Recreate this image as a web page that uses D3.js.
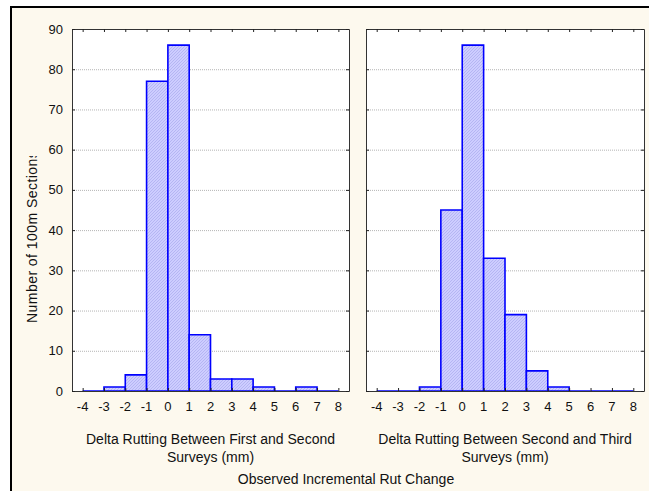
<!DOCTYPE html>
<html>
<head>
<meta charset="utf-8">
<script src="https://cdn.jsdelivr.net/npm/d3@7"></script>
<style>
  body { margin: 0; background: #ffffff; }
  svg { display: block; font-family: Arial, "Liberation Sans", sans-serif; }
</style>
</head>
<body>
<svg id="chart" width="649" height="491"></svg>
<script>
// bins are 1 mm wide, starting at these values
const binStarts = [-4, -3, -2, -1, 0, 1, 2, 3, 4, 5, 6, 7];
const firstToSecond = [0, 1, 4, 77, 86, 14, 3, 3, 1, 0, 1, 0];
const secondToThird = [0, 0, 1, 45, 86, 33, 19, 5, 1, 0, 0, 0];
const xTicks = [-4, -3, -2, -1, 0, 1, 2, 3, 4, 5, 6, 7, 8];
const yTicks = [0, 10, 20, 30, 40, 50, 60, 70, 80, 90];
const panelTitles = [
    ["Delta Rutting Between First and Second", "Surveys (mm)"],
    ["Delta Rutting Between Second and Third", "Surveys (mm)"]
];

const svg = d3.select("#chart");
const plotTop = 29, plotBottom = 391;
const panels = [
    {left: 72, right: 349, values: firstToSecond, title: panelTitles[0], yLabels: true},
    {left: 366, right: 644, values: secondToThird, title: panelTitles[1], yLabels: false}
];

// cream frame
svg.append("rect")
    .attr("x", 11).attr("y", 7)
    .attr("width", 660).attr("height", 500)
    .attr("fill", "#fdf9ee")
    .attr("stroke", "#000").attr("stroke-width", 2);

// hatch pattern for the bars
const defs = svg.append("defs");
const pat = defs.append("pattern")
    .attr("id", "hatch")
    .attr("patternUnits", "userSpaceOnUse")
    .attr("width", 3).attr("height", 3);
pat.append("rect").attr("width", 3).attr("height", 3).attr("fill", "#cdcdff");
pat.append("path").attr("d", "M0,3 L3,0 M-1,1 L1,-1 M2,4 L4,2")
    .attr("stroke", "#aeaef0").attr("stroke-width", 0.8);

const y = d3.scaleLinear().domain([0, 90]).range([plotBottom, plotTop]);

panels.forEach(function(p) {
    const x = d3.scaleLinear().domain([-4.5, 8.5]).range([p.left, p.right]);
    const g = svg.append("g");

    g.append("rect")
        .attr("x", p.left).attr("y", plotTop)
        .attr("width", p.right - p.left).attr("height", plotBottom - plotTop)
        .attr("fill", "#fff");

    // dotted grid
    g.selectAll(".grid").data(yTicks.filter(function(d) { return d > 0 && d < 90; }))
        .enter().append("line")
        .attr("x1", p.left).attr("x2", p.right)
        .attr("y1", function(d) { return y(d) + 0.5; })
        .attr("y2", function(d) { return y(d) + 0.5; })
        .attr("stroke", "#b4b4b4")
        .attr("stroke-dasharray", "1,1");

    // bars
    g.selectAll(".bar").data(binStarts)
        .enter().append("path")
        .attr("d", function(d, i) {
            const x0 = x(d), x1 = x(d + 1), y0 = y(0), y1 = y(p.values[i]);
            return "M" + x0 + "," + y0 + "V" + y1 + "H" + x1 + "V" + y0 + "Z";
        })
        .attr("fill", "url(#hatch)")
        .attr("stroke", "#0000ff")
        .attr("stroke-width", 1.6);

    // frame with inward ticks on all sides
    const tickLen = 3;
    const axes = [
        {axis: d3.axisBottom(x).tickValues(xTicks), t: "translate(0," + plotBottom + ")"},
        {axis: d3.axisTop(x).tickValues(xTicks), t: "translate(0," + plotTop + ")"},
        {axis: d3.axisLeft(y).tickValues(yTicks), t: "translate(" + p.left + ",0)"},
        {axis: d3.axisRight(y).tickValues(yTicks), t: "translate(" + p.right + ",0)"}
    ];
    axes.forEach(function(a) {
        const ag = g.append("g").attr("transform", a.t)
            .call(a.axis.tickSize(-tickLen).tickSizeOuter(0).tickFormat(""));
        ag.select(".domain").attr("stroke", "#333");
        ag.selectAll(".tick line").attr("stroke", "#222");
    });

    // x tick labels
    g.selectAll(".xl").data(xTicks)
        .enter().append("text")
        .attr("x", function(d) { return x(d); })
        .attr("y", 411)
        .attr("text-anchor", "middle")
        .attr("font-size", 13)
        .attr("fill", "#111")
        .text(function(d) { return d; });

    if (p.yLabels) {
        g.selectAll(".yl").data(yTicks)
            .enter().append("text")
            .attr("x", 63)
            .attr("y", function(d) { return y(d) + 4.5; })
            .attr("text-anchor", "end")
            .attr("font-size", 13)
            .attr("fill", "#111")
            .text(function(d) { return d; });
    }

    const cx = (p.left + p.right) / 2;
    g.append("text").attr("x", cx).attr("y", 444)
        .attr("text-anchor", "middle").attr("font-size", 14).attr("fill", "#111")
        .text(p.title[0]);
    g.append("text").attr("x", cx).attr("y", 462)
        .attr("text-anchor", "middle").attr("font-size", 14).attr("fill", "#111")
        .text(p.title[1]);
});

// shared x title
svg.append("text").attr("x", 346).attr("y", 484)
    .attr("text-anchor", "middle").attr("font-size", 14).attr("fill", "#111")
    .text("Observed Incremental Rut Change");

// y title, clipped at its top like the source
defs.append("clipPath").attr("id", "yclip")
    .append("rect").attr("x", 0).attr("y", 156).attr("width", 60).attr("height", 300);
svg.append("g")
    .attr("clip-path", "url(#yclip)")
    .append("text")
    .attr("transform", "translate(37,323) rotate(-90)")
    .attr("text-anchor", "start")
    .attr("font-size", 14)
    .attr("letter-spacing", 0.45)
    .attr("fill", "#111")
    .text("Number of 100m Sections");
</script>
</body>
</html>
